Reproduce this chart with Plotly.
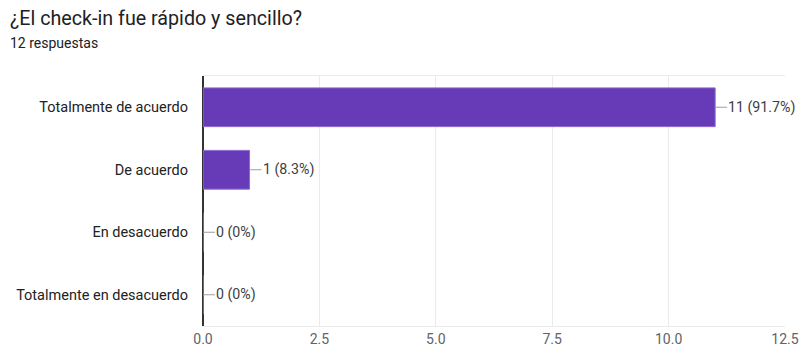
import plotly.graph_objects as go

categories = ["Totalmente de acuerdo", "De acuerdo", "En desacuerdo", "Totalmente en desacuerdo"]
counts = [11, 1, 0, 0]
pct_labels = ["11 (91.7%)", "1 (8.3%)", "0 (0%)", "0 (0%)"]
x_ticks = [0, 2.5, 5, 7.5, 10, 12.5]
x_tick_text = ["0.0", "2.5", "5.0", "7.5", "10.0", "12.5"]
title_text = "¿El check-in fue rápido y sencillo?"
subtitle_text = "12 respuestas"

W, H = 800, 351
ML, MR, MT, MB = 203, 15, 76, 25
PW, PH = W - ML - MR, H - MT - MB

fig = go.Figure()
fig.add_trace(go.Bar(
    y=categories, x=counts, orientation="h",
    marker=dict(color="#673ab7", line=dict(color="#8c6bd0", width=1)),
    width=0.62, hoverinfo="skip",
))

for c, v, t in zip(categories, counts, pct_labels):
    fig.add_annotation(
        x=v, y=c, xref="x", yref="y", text=t,
        showarrow=True, arrowhead=0, arrowwidth=1, arrowcolor="#9e9e9e",
        ax=12, ay=0, xanchor="left", standoff=0, borderpad=0,
        font=dict(family="Roboto", size=14.2, color="#3c4043"),
    )

fig.add_annotation(x=(8 - ML) / PW, y=1 + (MT - 18) / PH, xref="paper", yref="paper",
                   text=title_text, showarrow=False, xanchor="left", yanchor="middle",
                   font=dict(family="Roboto", size=19.7, color="#202124"))
fig.add_annotation(x=(8 - ML) / PW, y=1 + (MT - 43) / PH, xref="paper", yref="paper",
                   text=subtitle_text, showarrow=False, xanchor="left", yanchor="middle",
                   font=dict(family="Roboto", size=14, color="#202124"))

fig.update_layout(
    width=W, height=H,
    margin=dict(l=ML, r=MR, t=MT, b=MB, autoexpand=False),
    paper_bgcolor="white", plot_bgcolor="white",
    showlegend=False,
    font=dict(family="Roboto", size=14, color="#222222"),
    xaxis=dict(range=[0, 12.5], tickvals=x_ticks, ticktext=x_tick_text,
               automargin=False,
               showgrid=True, gridcolor="#ebebeb", gridwidth=1,
               zeroline=True, zerolinecolor="#333333", zerolinewidth=1.5,
               showline=True, mirror=True, linecolor="#ebebeb", linewidth=1,
               tickfont=dict(family="Roboto", size=14, color="#5f6368"),
               fixedrange=True),
    yaxis=dict(categoryorder="array", categoryarray=categories[::-1],
               automargin=False,
               showgrid=False, ticks="", ticklabelstandoff=14,
               tickfont=dict(family="Roboto", size=14.5, color="#222222"),
               fixedrange=True),
)

fig.write_html(
    "out.html",
    config={"displayModeBar": False, "staticPlot": True},
    post_script="document.body.style.margin='0';document.documentElement.style.overflow='hidden';",
)
